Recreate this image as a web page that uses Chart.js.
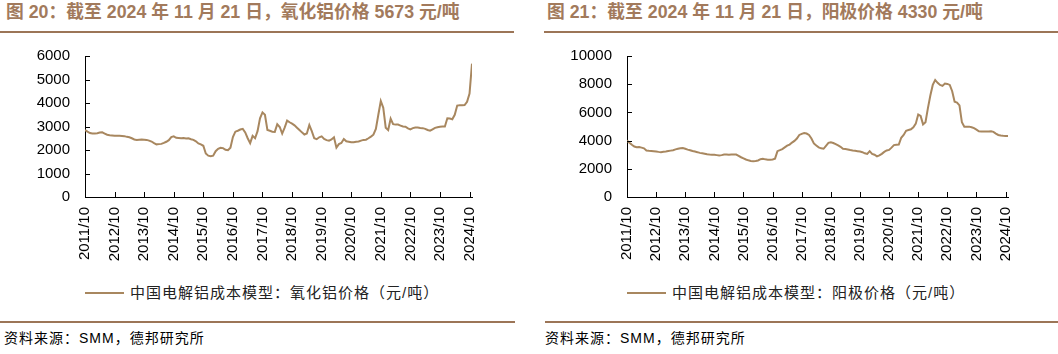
<!DOCTYPE html>
<html><head><meta charset="utf-8">
<script src="https://cdn.jsdelivr.net/npm/chart.js@4.4.1/dist/chart.umd.min.js"></script>
<style>
body{margin:0;width:1058px;height:354px;background:#fff;position:relative;overflow:hidden;font-family:"Liberation Sans",Arial,"Noto Sans CJK SC",sans-serif}
.title{position:absolute;top:1px;font-family:"Liberation Sans","Noto Sans CJK SC",sans-serif;font-weight:bold;font-size:17.8px;line-height:22px;color:#a27a5c;white-space:nowrap}
.rule{position:absolute;height:2px;background:#9c7557}
.legend{position:absolute;top:283px;font-family:"Liberation Sans","Noto Sans CJK SC",sans-serif;font-size:15px;line-height:20px;letter-spacing:1px;color:#222;white-space:nowrap;display:flex;align-items:center}
.legend i{display:inline-block;width:39px;height:2px;background:#a8875f;margin-right:6px}
.src{position:absolute;top:329px;font-family:"Liberation Sans","Noto Sans CJK SC",sans-serif;font-size:14px;line-height:18px;letter-spacing:1px;color:#000;white-space:nowrap}
canvas{position:absolute}
</style></head>
<body>
<div class="title" style="left:6px">图 20：截至 2024 年 11 月 21 日，氧化铝价格 5673 元/吨</div>
<div class="title" style="left:547px">图 21：截至 2024 年 11 月 21 日，阳极价格 4330 元/吨</div>
<div class="rule" style="left:0;width:514px;top:31px"></div>
<div class="rule" style="left:544px;width:514px;top:31px"></div>
<canvas id="c1" width="515" height="238" style="left:0;top:32px"></canvas>
<canvas id="c2" width="528" height="238" style="left:530px;top:32px"></canvas>
<div class="legend" style="left:85px"><i></i>中国电解铝成本模型：氧化铝价格（元/吨）</div>
<div class="legend" style="left:627px"><i></i>中国电解铝成本模型：阳极价格（元/吨）</div>
<div class="rule" style="left:0;width:515px;top:321px"></div>
<div class="rule" style="left:545px;width:513px;top:321px"></div>
<div class="src" style="left:4px">资料来源：SMM，德邦研究所</div>
<div class="src" style="left:545px">资料来源：SMM，德邦研究所</div>
<script>
// Monthly values, index 0 = 2011/10 ... index 157 = 2024/11
const xTickLabels = ['2011/10','2012/10','2013/10','2014/10','2015/10','2016/10','2017/10','2018/10','2019/10','2020/10','2021/10','2022/10','2023/10','2024/10'];
const aluminaPrice = [
2850,2780,2720,2700,2700,2710,2740,2750,2700,2650,2630,2620,
2610,2610,2610,2600,2590,2560,2540,2500,2450,2430,2440,2450,
2440,2430,2400,2360,2290,2240,2250,2260,2300,2350,2420,2550,
2580,2520,2510,2500,2510,2490,2500,2460,2430,2370,2280,2240,
2180,1850,1760,1740,1760,1950,2050,2090,2080,2010,1990,2100,
2550,2780,2820,2870,2900,2750,2500,2290,2600,2500,2800,3350,
3600,3500,2850,2820,2780,2770,3100,2980,2700,2950,3250,3180,
3120,3050,2950,2850,2750,2660,2700,3060,2800,2500,2460,2540,
2580,2470,2420,2400,2450,2540,2100,2250,2300,2470,2370,2350,
2330,2330,2350,2360,2400,2430,2440,2500,2570,2650,2900,3500,
4080,3800,2950,2850,3330,3100,3080,3080,3040,3000,2990,2920,
2880,2930,2960,2960,2940,2930,2900,2850,2820,2880,2940,2970,
2990,3000,3000,3350,3340,3310,3500,3890,3900,3900,3910,4050,
4400,5673];
const anodePrice = [
4000,3850,3700,3580,3530,3540,3500,3450,3300,3280,3270,3250,
3230,3200,3180,3210,3230,3260,3290,3320,3380,3420,3460,3480,
3420,3360,3320,3260,3220,3180,3130,3100,3070,3030,3010,3000,
2990,2970,2940,2970,3010,3010,3000,3010,3010,3010,2920,2820,
2740,2660,2600,2560,2540,2560,2590,2680,2710,2670,2640,2650,
2660,2720,3250,3320,3400,3520,3640,3720,3860,3980,4150,4400,
4480,4540,4500,4400,4150,3800,3650,3520,3450,3420,3630,3840,
3880,3830,3750,3660,3560,3420,3400,3370,3330,3300,3280,3250,
3220,3180,3100,3060,3250,3060,3000,2880,2950,3060,3200,3300,
3340,3500,3680,3700,3720,4200,4400,4700,4750,4800,4950,5200,
5850,5750,5150,5300,6300,7200,7950,8300,8100,7950,7880,8050,
8020,7950,7500,6750,6700,6500,5300,4990,4990,4990,4950,4880,
4780,4660,4640,4640,4640,4650,4660,4620,4500,4400,4360,4340,
4330,4330];
const leftYTicks = [0,1000,2000,3000,4000,5000,6000];
const rightYTicks = [0,2000,4000,6000,8000,10000];

const lineColor = '#a8875f';
const tickFont = {family:'"Liberation Sans", Arial, sans-serif', size:15};

const innerTicks = {
  id:'innerTicks',
  afterDraw(chart){
    const ctx = chart.ctx, x = chart.scales.x, y = chart.scales.y;
    ctx.save();
    ctx.strokeStyle = '#000'; ctx.lineWidth = 1;
    ctx.beginPath();
    x.ticks.forEach(t => { const px = Math.round(x.getPixelForValue(t.value)) + 0.5; ctx.moveTo(px, y.bottom); ctx.lineTo(px, y.bottom - 5); });
    y.ticks.forEach(t => { const py = Math.round(y.getPixelForValue(t.value)) + 0.5; ctx.moveTo(x.left, py); ctx.lineTo(x.left + 5, py); });
    ctx.stroke();
    ctx.restore();
  }
};

function makeChart(id, values, yTicks, yMax, yWidth, padRight){
  new Chart(document.getElementById(id), {
    type:'line',
    data:{datasets:[{data: values.map((v,i)=>({x:i,y:v})), borderColor:lineColor, borderWidth:2, pointRadius:0, tension:0, fill:false}]},
    options:{
      responsive:false, animation:false, devicePixelRatio:1,
      layout:{padding:{top:8,right:padRight,bottom:8,left:0}},
      plugins:{legend:{display:false}, tooltip:{enabled:false}},
      scales:{
        x:{type:'linear', min:0, max:157,
           afterBuildTicks(s){ s.ticks = xTickLabels.map((_,i)=>({value:i*12})); },
           afterFit(s){ s.height = 65; },
           grid:{display:true, drawOnChartArea:false, drawTicks:false},
           border:{display:true,color:'#000',width:1},
           ticks:{autoSkip:false, minRotation:90, maxRotation:90, padding:10, color:'#000', font:tickFont,
             callback:(v)=> xTickLabels[Math.round(v/12)]}},
        y:{min:0, max:yMax,
           afterBuildTicks(s){ s.ticks = yTicks.map(v=>({value:v})); },
           afterFit(s){ s.width = yWidth; },
           grid:{display:true, drawOnChartArea:false, drawTicks:false},
           border:{display:true,color:'#000',width:1},
           ticks:{padding:15, color:'#000', font:tickFont, callback:(v)=> String(v)}}
      }
    },
    plugins:[innerTicks]
  });
}
makeChart('c1', aluminaPrice, leftYTicks, 6000, 85, 43);
makeChart('c2', anodePrice, rightYTicks, 10000, 97, 50);
</script>
</body></html>
